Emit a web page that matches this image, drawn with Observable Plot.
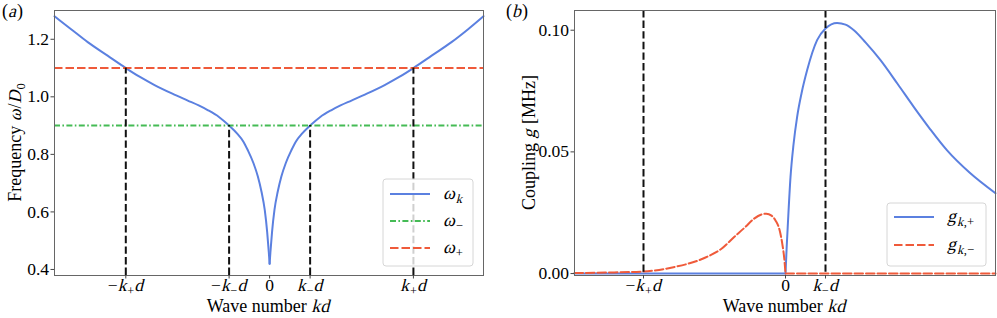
<!DOCTYPE html>
<html><head><meta charset="utf-8">
<script src="https://cdn.jsdelivr.net/npm/d3@7"></script>
<script src="https://cdn.jsdelivr.net/npm/@observablehq/plot@0.6"></script>
<style>
body{margin:0;background:#fff;}
#wrap{position:relative;width:997px;height:318px;overflow:hidden;background:#fff;}
#wrap svg{position:absolute;top:0;overflow:visible;}
</style></head><body><div id="wrap"></div>
<script>
// ---- data ----
const kMinus = 1.0, kPlus = 3.55;
const omegaMinus = 0.90, omegaPlus = 1.10;

// panel (a): dispersion omega_k
const kOmega = [-5.31,-4.9,-4.49,-4.0,-3.55,-3.2,-2.84,-2.4,-2.02,-1.75,-1.53,-1.25,-1.0,-0.8,-0.65,-0.54,-0.4,-0.29,-0.2,-0.12,-0.06,-0.02,0,
                 0.02,0.06,0.12,0.2,0.29,0.4,0.54,0.65,0.8,1.0,1.25,1.53,1.75,2.02,2.4,2.84,3.2,3.55,4.0,4.49,4.9,5.28];
const omegaK = [1.28,1.235,1.19,1.143,1.10,1.069,1.041,1.011,0.987,0.970,0.954,0.930,0.90,0.872,0.845,0.815,0.77,0.723,0.67,0.607,0.53,0.46,0.42,
                0.46,0.53,0.607,0.67,0.723,0.77,0.815,0.845,0.872,0.90,0.930,0.954,0.970,0.987,1.011,1.041,1.069,1.10,1.143,1.19,1.235,1.28];

// panel (b): couplings
const kGPlus = [-5.275,0,0.03,0.06,0.125,0.2,0.29,0.4,0.54,0.79,1.0,1.29,1.5,1.71,2.0,2.375,2.8,3.21,3.6,4.04,4.6,5.25];
const gPlus  = [0,0,0.011,0.0206,0.0396,0.053,0.0643,0.074,0.0835,0.0959,0.1007,0.103,0.1023,0.100,0.095,0.0877,0.078,0.0684,0.0597,0.0506,0.0415,0.033];
const kGMinus = [-5.275,-4.5,-3.6,-2.8,-2.0,-1.6,-1.29,-1.0,-0.79,-0.6,-0.48,-0.35,-0.25,-0.15,-0.08,-0.03,0,5.25];
const gMinus  = [0.0002,0.0004,0.0008,0.0026,0.0066,0.0102,0.0149,0.0192,0.0225,0.0243,0.0246,0.0238,0.0218,0.018,0.0122,0.006,0,0];

// ticks
const leftXTicks = [-kPlus,-kMinus,0,kMinus,kPlus];
const leftXLabels = ["−*k*_{+}*d*","−*k*_{−}*d*","0","*k*_{−}*d*","*k*_{+}*d*"];
const leftYTicks = [0.4,0.6,0.8,1.0,1.2];
const rightXTicks = [-kPlus,0,kMinus];
const rightXLabels = ["−*k*_{+}*d*","0","*k*_{−}*d*"];
const rightYTicks = [0,0.05,0.10];

const legendLeft = ["*ω*_{*k*}","*ω*_{−}","*ω*_{+}"];
const legendRight = ["*g*_{*k*,+}","*g*_{*k*,−}"];

// ---- style ----
const FONT = "Liberation Serif";
const FS = 17.5;
const BLUE = "#5b80e0", RED = "#ef5a3a", GREEN = "#45bb55", BLACK = "#111";
const DASH = "7.4,3.2", RDASH = "8.5,3", DASHDOT = "6,2.4,1.6,2.4";

function parse(s){
  const segs=[]; let italic=false, sub=false, buf="";
  const flush=()=>{ if(buf){ segs.push({text:buf, italic, sub}); buf=""; } };
  for(let i=0;i<s.length;i++){
    const c=s[i];
    if(c==="*"){ flush(); italic=!italic; }
    else if(c==="_" && s[i+1]==="{"){ flush(); sub=true; i++; }
    else if(c==="}" && sub){ flush(); sub=false; }
    else buf+=c;
  }
  flush();
  return segs;
}

// rich text: each piece is its own <text>; italic pieces are slanted (no serif italic face installed)
function richG(parent, x, y, s, size, anchor, rotate, subShift){
  const g = d3.select(parent).append("g")
    .attr("transform", `translate(${x},${y})${rotate ? " rotate(-90)" : ""}`);
  const inner = g.append("g").attr("text-anchor","start");
  let cx = 0;
  for(const seg of parse(s)){
    const fs = seg.sub ? size*0.7 : size;
    const dy = seg.sub ? size*(subShift ?? 0.24) : 0;
    const t = inner.append("text").attr("font-family",FONT).attr("font-size",fs+"px")
      .attr("text-anchor","start").attr("fill","black").text(seg.text);
    if(seg.italic) t.attr("transform", `translate(${cx},${dy}) skewX(-14)`);
    else t.attr("x",cx).attr("y",dy);
    cx += t.node().getComputedTextLength() + (seg.italic ? fs*0.05 : 0);
  }
  const off = anchor==="middle" ? -cx/2 : anchor==="end" ? -cx : 0;
  inner.attr("transform", `translate(${off},0)`);
  return g;
}

function legend(svg, x0, y0, w, h, items){
  const g = d3.select(svg).append("g");
  g.append("rect").attr("x",x0).attr("y",y0).attr("width",w).attr("height",h)
    .attr("rx",3).attr("fill","white").attr("fill-opacity",0.8).attr("stroke","#d6d6d6").attr("stroke-width",1);
  items.forEach(it=>{
    g.append("line").attr("x1",x0+7).attr("x2",x0+47).attr("y1",it.y).attr("y2",it.y)
      .attr("stroke",it.color).attr("stroke-width",2).attr("stroke-dasharray",it.dash||null);
    richG(g.node(), x0+60, it.y+5, it.label, 18, "start");
  });
}

// replace Plot's x tick label texts by rich text at the same horizontal position
function fixTicks(svg, baseline, size){
  const box = svg.getBoundingClientRect();
  svg.querySelectorAll('[aria-label="x-axis tick label"] text').forEach(t=>{
    const r = t.getBoundingClientRect();
    const cx = r.x + r.width/2 - box.x;
    const s = t.textContent;
    t.textContent = "";
    richG(svg, cx, baseline, s, size, "middle", false, 0.2);
  });
}

const wrap = document.getElementById("wrap");

// ---- panel (a) ----
const rowsA = kOmega.map((k,i)=>({k, w: omegaK[i]}));
const yMinA = 0.379, yMaxA = 1.30;
const vA = [{k:-kPlus,w:omegaPlus},{k:-kMinus,w:omegaMinus},{k:kMinus,w:omegaMinus},{k:kPlus,w:omegaPlus}];
const mapA = new Map(leftXTicks.map((v,i)=>[v,leftXLabels[i]]));
const svgA = Plot.plot({
  width:497, height:318, marginTop:10, marginRight:14, marginBottom:43, marginLeft:54,
  x:{domain:[-5.31,5.28]}, y:{domain:[yMinA,yMaxA]},
  style:{fontFamily:FONT, fontSize:FS+"px", background:"transparent", color:"black"},
  marks:[
    Plot.line(rowsA.filter(d=>d.k<=0), {x:"k", y:"w", stroke:BLUE, strokeWidth:2, curve:"monotone-x"}),
    Plot.line(rowsA.filter(d=>d.k>=0), {x:"k", y:"w", stroke:BLUE, strokeWidth:2, curve:"monotone-x"}),
    Plot.ruleY([omegaMinus], {stroke:GREEN, strokeWidth:2, strokeDasharray:DASHDOT}),
    Plot.ruleY([omegaPlus], {stroke:RED, strokeWidth:2, strokeDasharray:RDASH}),
    Plot.ruleX(vA, {x:"k", y1:yMinA, y2:"w", stroke:BLACK, strokeWidth:2, strokeDasharray:DASH}),
    Plot.frame({stroke:"#666", strokeWidth:1}),
    Plot.axisX({ticks:leftXTicks, tickFormat:d=>mapA.get(d), tickSize:3.5, tickPadding:1, label:null, stroke:"#444", fill:"black", fontSize:FS}),
    Plot.axisY({ticks:leftYTicks, tickFormat:d3.format(".1f"), tickSize:3.5, tickPadding:2, label:null, stroke:"#444", fill:"black", fontSize:FS})
  ]
});
svgA.style.left = "0px";
wrap.appendChild(svgA);
fixTicks(svgA, 291, FS);
richG(svgA, 268.5, 312, "Wave number *kd*", 18, "middle");
richG(svgA, 21, 142.5, "Frequency *ω*/*D*_{0}", 18, "middle", true);
richG(svgA, 2, 17, "(*a*)", 18, "start");
legend(svgA, 383, 179, 90, 87, [
  {y:194, color:BLUE, label:legendLeft[0]},
  {y:221, color:GREEN, dash:DASHDOT, label:legendLeft[1]},
  {y:248, color:RED, dash:RDASH, label:legendLeft[2]}
]);

// ---- panel (b) ----
const rowsP = kGPlus.map((k,i)=>({k, g:gPlus[i]}));
const rowsM = kGMinus.map((k,i)=>({k, g:gMinus[i]}));
const mapB = new Map(rightXTicks.map((v,i)=>[v,rightXLabels[i]]));
const svgB = Plot.plot({
  width:500, height:318, marginTop:10, marginRight:2, marginBottom:43, marginLeft:77,
  x:{domain:[-5.275,5.25]}, y:{domain:[-0.0008,0.1081]},
  style:{fontFamily:FONT, fontSize:FS+"px", background:"transparent", color:"black"},
  marks:[
    Plot.line(rowsP.filter(d=>d.k<=0), {x:"k", y:"g", stroke:BLUE, strokeWidth:2}),
    Plot.line(rowsP.filter(d=>d.k>=0), {x:"k", y:"g", stroke:BLUE, strokeWidth:2, curve:"monotone-x"}),
    Plot.line(rowsM.filter(d=>d.k<=0), {x:"k", y:"g", stroke:RED, strokeWidth:2, strokeDasharray:RDASH, curve:"monotone-x"}),
    Plot.line(rowsM.filter(d=>d.k>=0), {x:"k", y:"g", stroke:RED, strokeWidth:2, strokeDasharray:RDASH}),
    Plot.ruleX([-kPlus,kMinus], {stroke:BLACK, strokeWidth:2, strokeDasharray:DASH}),
    Plot.frame({stroke:"#666", strokeWidth:1}),
    Plot.axisX({ticks:rightXTicks, tickFormat:d=>mapB.get(d), tickSize:3.5, tickPadding:1, label:null, stroke:"#444", fill:"black", fontSize:FS}),
    Plot.axisY({ticks:rightYTicks, tickFormat:d3.format(".2f"), tickSize:3.5, tickPadding:2, label:null, stroke:"#444", fill:"black", fontSize:FS})
  ]
});
svgB.style.left = "497px";
wrap.appendChild(svgB);
fixTicks(svgB, 291, FS);
richG(svgB, 287.5, 312, "Wave number *kd*", 18, "middle");
richG(svgB, 38, 142.5, "Coupling *g* [MHz]", 18, "middle", true);
richG(svgB, 9, 17, "(*b*)", 18, "start");
legend(svgB, 390, 203, 99, 63, [
  {y:217, color:BLUE, label:legendRight[0]},
  {y:245, color:RED, dash:RDASH, label:legendRight[1]}
]);
</script></body></html>
